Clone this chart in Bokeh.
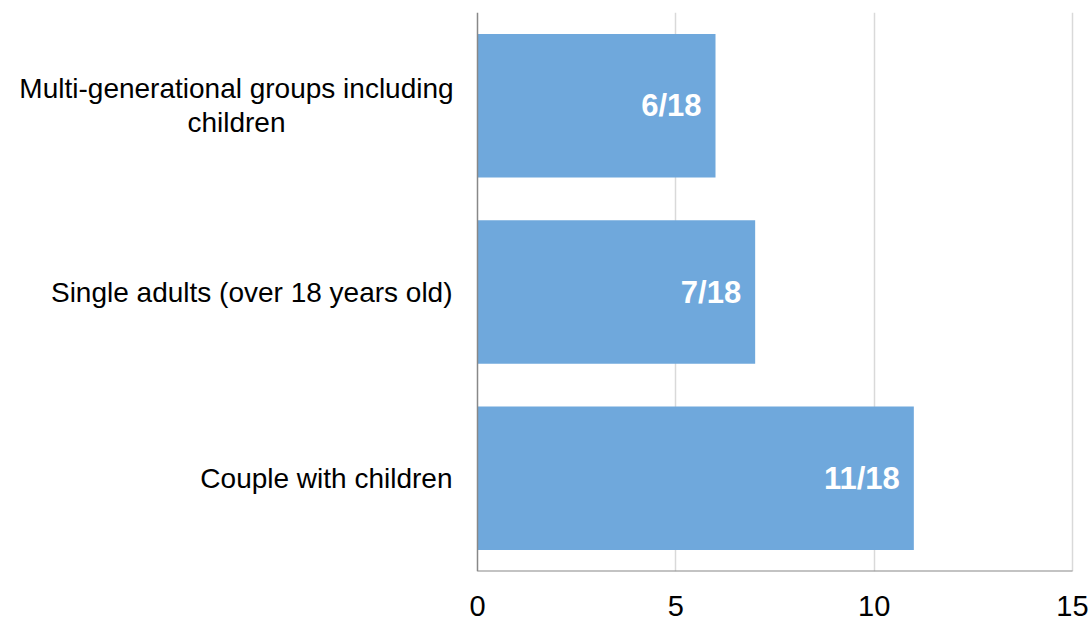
from bokeh.plotting import figure
from bokeh.models import ColumnDataSource, FixedTicker, Range1d, FactorRange
from bokeh.embed import file_html
from bokeh.resources import INLINE

categories = ["Couple with children", "Single adults (over 18 years old)",
              "Multi-generational groups including\nchildren"]
values = [11, 7, 6]
labels = ["11/18", "7/18", "6/18"]
x_ticks = [0, 5, 10, 15]
x_max = 15

# label styling: single-line labels right-aligned, wrapped label centred under its block
cat_align = ["right", "right", "center"]
cat_offset = [-25, -25, -241]

W, H = 1089, 620
plot_left_px, plot_right_px = 477, 1072   # where 0 and 15 sit on the page
pad_px = 3                                 # keep the right-edge gridline inside the frame
unit = x_max / (plot_right_px - plot_left_px)
x_start = -plot_left_px * unit
x_end = x_max + pad_px * unit

src = ColumnDataSource(dict(cat=categories, val=values, lab=labels, zero=[0] * 3,
                            align=cat_align, off=cat_offset))

p = figure(width=W, height=H, y_range=FactorRange(*categories, range_padding=0),
           x_range=Range1d(x_start, x_end), output_backend="svg", toolbar_location=None,
           min_border_left=0, min_border_right=W - plot_right_px - pad_px, min_border_top=12,
           min_border_bottom=49)
p.outline_line_color = None

p.xgrid.ticker = FixedTicker(ticks=x_ticks[1:])
p.xgrid.grid_line_color = "#D9D9D9"
p.xgrid.grid_line_width = 1.5
p.ygrid.grid_line_color = None

p.hbar(y="cat", right="val", left=0, height=0.77, source=src,
       fill_color="#6FA8DC", line_color=None)
p.text(x="val", y="cat", text="lab", source=src, x_offset=-14, text_align="right",
       text_baseline="middle", text_color="white", text_font_style="bold",
       text_font_size="31px", text_font={"value": "Liberation Sans"})

# category labels (drawn inside the widened frame)
p.text(x="zero", y="cat", text="cat", source=src, x_offset="off", text_align="align",
       text_baseline="middle", text_color="black", text_font_size="28px",
       text_font={"value": "Liberation Sans"}, text_line_height=1.1)

# axis lines for the 0..15 region only
p.segment(x0=[0], y0=[0], x1=[0], y1=[len(categories)], line_color="#888888", line_width=1.5)
p.segment(x0=[0], y0=[0], x1=[x_max], y1=[0], line_color="#888888", line_width=2)

p.xaxis.ticker = FixedTicker(ticks=x_ticks)
p.xaxis.axis_line_color = None
p.xaxis.major_tick_line_color = None
p.xaxis.minor_tick_line_color = None
p.xaxis.major_label_text_font = "Liberation Sans"
p.xaxis.major_label_text_font_size = "29px"
p.xaxis.major_label_text_color = "black"
p.xaxis.major_label_standoff = 18

p.yaxis.visible = False

open("out.html", "w").write(file_html(p, INLINE))
